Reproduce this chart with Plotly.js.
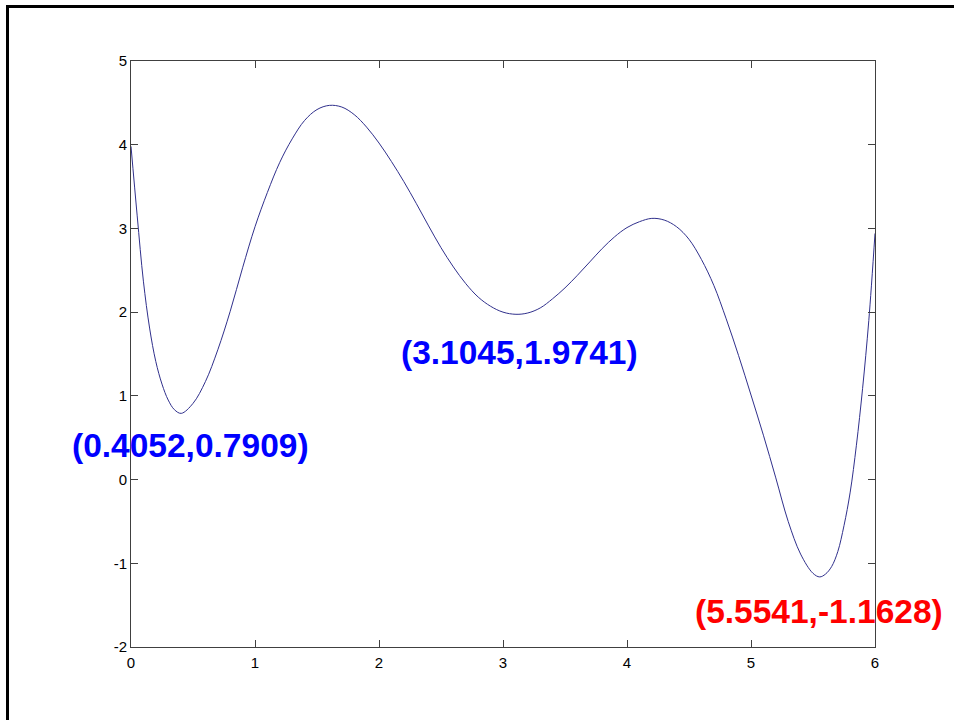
<!DOCTYPE html>
<html>
<head>
<meta charset="utf-8">
<script src="https://cdn.plot.ly/plotly-3.0.1.min.js"></script>
<style>
  html, body { margin: 0; padding: 0; background: #fff; }
  #chart { width: 954px; height: 720px; }
</style>
</head>
<body>
<div id="chart"></div>
<script>
// Curve values
const curveX = [0, 0.05, 0.1, 0.15, 0.2, 0.25, 0.3, 0.35, 0.4052, 0.5, 0.6, 0.7, 0.8, 0.9, 1.0, 1.1, 1.2, 1.3, 1.4, 1.5, 1.6, 1.7, 1.8, 1.9, 2.0, 2.1, 2.2, 2.3, 2.4, 2.5, 2.6, 2.7, 2.8, 2.9, 3.0, 3.1045, 3.2, 3.3, 3.4, 3.5, 3.6, 3.7, 3.8, 3.9, 4.0, 4.1, 4.2, 4.3, 4.4, 4.5, 4.6, 4.7, 4.8, 4.9, 5.0, 5.1, 5.2, 5.3, 5.4, 5.5, 5.5541, 5.6, 5.65, 5.7, 5.75, 5.8, 5.85, 5.9, 5.95, 6.0];
const curveY = [3.98, 3.15, 2.37, 1.81, 1.41, 1.14, 0.95, 0.835, 0.7909, 0.91, 1.17, 1.55, 2.01, 2.53, 3.02, 3.43, 3.79, 4.07, 4.29, 4.42, 4.47, 4.45, 4.36, 4.21, 4.02, 3.80, 3.56, 3.30, 3.03, 2.77, 2.54, 2.34, 2.18, 2.07, 2.00, 1.9741, 1.99, 2.05, 2.16, 2.29, 2.44, 2.60, 2.76, 2.90, 3.01, 3.08, 3.12, 3.10, 3.02, 2.87, 2.63, 2.32, 1.92, 1.48, 1.01, 0.53, 0.02, -0.50, -0.89, -1.12, -1.1628, -1.13, -1.04, -0.86, -0.55, -0.15, 0.41, 1.09, 1.90, 2.94];

// Marked minima (labels)
const minX = [0.4052, 3.1045, 5.5541];
const minY = [0.7909, 1.9741, -1.1628];
const minLabels = ["(0.4052,0.7909)", "(3.1045,1.9741)", "(5.5541,-1.1628)"];
const minColors = ["#0000ff", "#0000ff", "#ff0000"];

// Axis ticks
const xTicks = [0, 1, 2, 3, 4, 5, 6];
const yTicks = [-2, -1, 0, 1, 2, 3, 4, 5];

const labelShift = [[9, -32], [4, -38], [-1, -35]];

const annotations = minX.map((x, i) => ({
  x: x, y: minY[i], xref: 'x', yref: 'y',
  text: minLabels[i], showarrow: false,
  xanchor: 'center', yanchor: 'middle',
  xshift: labelShift[i][0], yshift: labelShift[i][1],
  font: { family: 'Arial, "Liberation Sans", sans-serif', size: 33.5, color: minColors[i], weight: 'bold' }
}));

const trace = {
  x: curveX, y: curveY, type: 'scatter', mode: 'lines',
  line: { color: '#30308c', width: 1, shape: 'spline', smoothing: 1 },
  hoverinfo: 'skip'
};

const axisCommon = {
  showgrid: false, zeroline: false,
  showline: true, linecolor: '#404040', linewidth: 1,
  mirror: 'ticks', ticks: 'inside', ticklen: 7, tickcolor: '#404040', tickwidth: 1,
  tickfont: { family: 'Arial, "Liberation Sans", sans-serif', size: 15, color: '#000' }
};

const layout = {
  width: 954, height: 720,
  margin: { l: 131, r: 79, t: 61, b: 73, pad: 0 },
  paper_bgcolor: '#fff', plot_bgcolor: '#fff',
  showlegend: false,
  xaxis: Object.assign({}, axisCommon, { range: [0, 6], tickvals: xTicks, ticktext: xTicks.map(String), ticklabelstandoff: 2 }),
  yaxis: Object.assign({}, axisCommon, { range: [-2, 5], tickvals: yTicks, ticktext: yTicks.map(String) }),
  annotations: annotations,
  shapes: [
    { type: 'line', xref: 'paper', yref: 'paper', x0: (7.5 - 131) / 744, x1: (960 - 131) / 744, y0: 1 + (61 - 6.5) / 586, y1: 1 + (61 - 6.5) / 586, line: { color: '#000', width: 3 } },
    { type: 'line', xref: 'paper', yref: 'paper', x0: (7.5 - 131) / 744, x1: (7.5 - 131) / 744, y0: 1 + (61 - 5) / 586, y1: (647 - 725) / 586, line: { color: '#000', width: 3 } }
  ]
};

Plotly.newPlot('chart', [trace], layout, { staticPlot: true, displayModeBar: false });
</script>
</body>
</html>
